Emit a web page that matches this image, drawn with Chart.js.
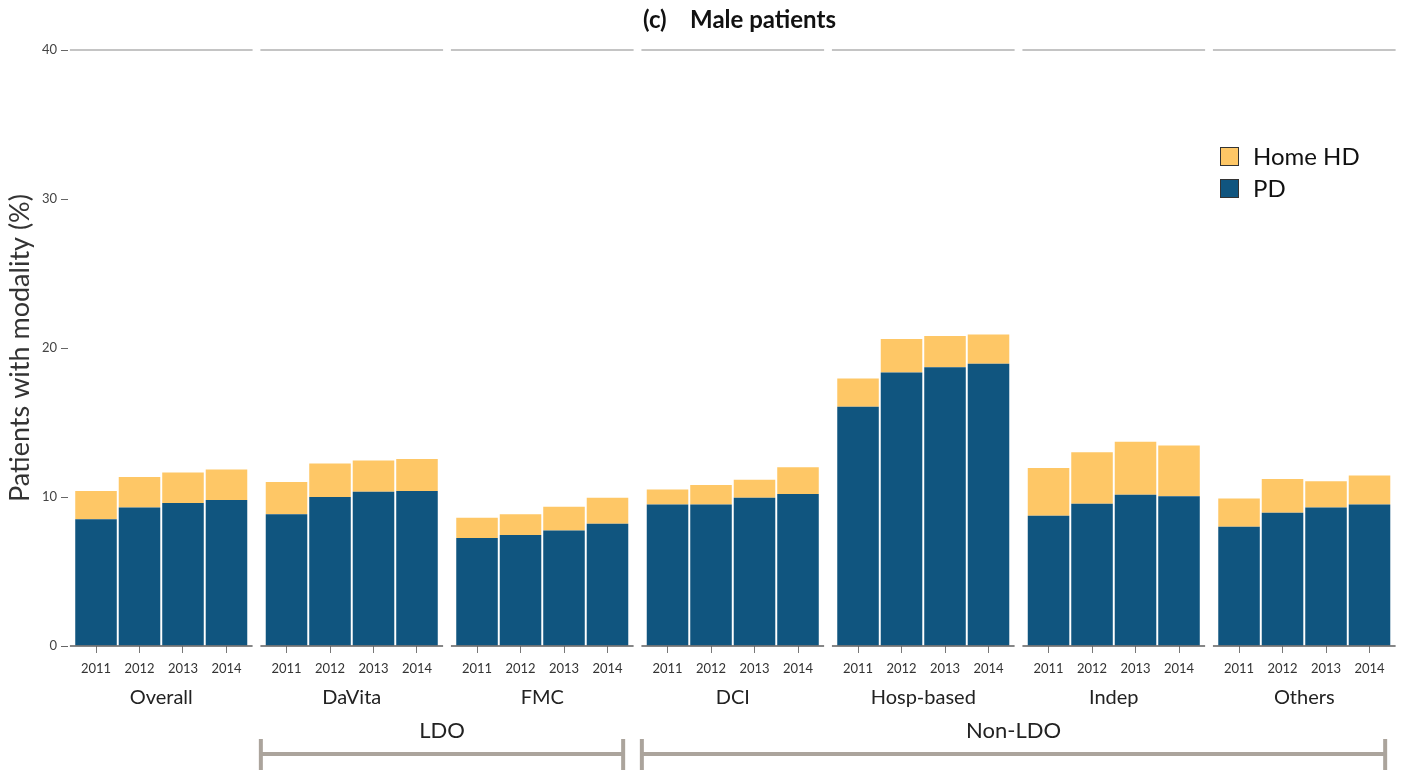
<!DOCTYPE html>
<html>
<head>
<meta charset="utf-8">
<title>Home dialysis use, male patients</title>
<script src="https://cdn.jsdelivr.net/npm/chart.js@4/dist/chart.umd.min.js"></script>
<style>
  html, body { margin: 0; padding: 0; background: #fff; }
  #wrap { width: 1403px; height: 773px; position: relative; }
</style>
</head>
<body>
<div id="wrap"><canvas id="modalityChart"></canvas></div>
<script>
const groups = ["Overall", "DaVita", "FMC", "DCI", "Hosp-based", "Indep", "Others"];
const years = ["2011", "2012", "2013", "2014"];

// % of patients on PD, one row per provider group (2011-2014)
const pdRate = [
  [8.5, 9.3, 9.6, 9.8],
  [8.85, 10.0, 10.35, 10.4],
  [7.25, 7.45, 7.75, 8.2],
  [9.5, 9.5, 9.95, 10.2],
  [16.05, 18.35, 18.7, 18.95],
  [8.75, 9.55, 10.15, 10.05],
  [8.0, 8.95, 9.3, 9.5],
];

// % of patients on home HD, stacked on top of PD
const homeHdRate = [
  [1.9, 2.05, 2.05, 2.05],
  [2.15, 2.25, 2.1, 2.15],
  [1.35, 1.4, 1.6, 1.75],
  [1.0, 1.3, 1.2, 1.8],
  [1.9, 2.25, 2.1, 1.95],
  [3.2, 3.45, 3.55, 3.4],
  [1.9, 2.25, 1.75, 1.95],
];

const yTicks = [0, 10, 20, 30, 40];

// provider groups bracketed under the axis (indices into groups)
const sectors = [
  { label: "LDO", first: 1, last: 2 },
  { label: "Non-LDO", first: 3, last: 6 },
];

const FONT = "Lato, 'Open Sans', sans-serif";
const GROUP_STEP = 4.38; // one group = 4 bars + a small gap

function xPos(g, i) {
  return g * GROUP_STEP + i;
}

function toPoints(rows) {
  const pts = [];
  rows.forEach((row, g) => row.forEach((v, i) => pts.push({ x: xPos(g, i), y: v })));
  return pts;
}

const tickValues = [];
groups.forEach((g, gi) => years.forEach((y, i) => tickValues.push(xPos(gi, i))));

// title, segmented top line / baseline, group names, LDO brackets and legend
const decorPlugin = {
  id: "decor",
  afterDraw(chart) {
    const { ctx, scales, chartArea } = chart;
    const xs = scales.x, ys = scales.y;
    const yTop = ys.getPixelForValue(40);
    const yBase = ys.getPixelForValue(0);

    ctx.save();
    ctx.fillStyle = "#111";
    ctx.font = "bold 24px " + FONT;
    ctx.textAlign = "center";
    ctx.textBaseline = "middle";
    ctx.fillText("(c)    Male patients", (chartArea.left + chartArea.right) / 2 + 8, 20);

    groups.forEach((name, gi) => {
      const x0 = xs.getPixelForValue(xPos(gi, 0) - 0.6);
      const x1 = xs.getPixelForValue(xPos(gi, 3) + 0.6);

      ctx.strokeStyle = "#c4c4c4";
      ctx.lineWidth = 2;
      ctx.beginPath();
      ctx.moveTo(x0, yTop);
      ctx.lineTo(x1, yTop);
      ctx.stroke();

      ctx.strokeStyle = "#5e5e5e";
      ctx.lineWidth = 1.5;
      ctx.beginPath();
      ctx.moveTo(x0, yBase);
      ctx.lineTo(x1, yBase);
      ctx.stroke();

      ctx.fillStyle = "#222";
      ctx.font = "20px " + FONT;
      ctx.textAlign = "center";
      ctx.textBaseline = "middle";
      ctx.fillText(name, xs.getPixelForValue(xPos(gi, 1.5)), yBase + 52);
    });

    sectors.forEach((s) => {
      const x0 = xs.getPixelForValue(xPos(s.first, 0) - 0.59);
      const x1 = xs.getPixelForValue(xPos(s.last, 3) + 0.36);
      const yLine = yBase + 108;
      ctx.strokeStyle = "#aba49c";
      ctx.lineWidth = 4;
      ctx.beginPath();
      ctx.moveTo(x0, yLine);
      ctx.lineTo(x1, yLine);
      ctx.moveTo(x0, yLine - 15);
      ctx.lineTo(x0, yLine + 16);
      ctx.moveTo(x1, yLine - 15);
      ctx.lineTo(x1, yLine + 16);
      ctx.stroke();

      ctx.fillStyle = "#222";
      ctx.font = "22px " + FONT;
      ctx.textAlign = "center";
      ctx.textBaseline = "middle";
      ctx.fillText(s.label, (x0 + x1) / 2, yBase + 85);
    });

    // legend, top series first
    const items = chart.data.datasets.slice().reverse();
    items.forEach((ds, k) => {
      const bx = 1220, by = 147 + k * 32;
      ctx.fillStyle = ds.backgroundColor;
      ctx.fillRect(bx, by, 19, 19);
      ctx.strokeStyle = "#333";
      ctx.lineWidth = 1;
      ctx.strokeRect(bx + 0.5, by + 0.5, 18, 18);
      ctx.fillStyle = "#111";
      ctx.font = "24px " + FONT;
      ctx.textAlign = "left";
      ctx.textBaseline = "middle";
      ctx.fillText(ds.label, bx + 33, by + 10);
    });
    ctx.restore();
  },
};

const ctx = document.getElementById("modalityChart").getContext("2d");

new Chart(ctx, {
  type: "bar",
  data: {
    datasets: [
      {
        label: "PD",
        data: toPoints(pdRate),
        backgroundColor: "#10557f",
        borderWidth: 0,
      },
      {
        label: "Home HD",
        data: toPoints(homeHdRate),
        backgroundColor: "#fec766",
        borderWidth: 0,
      },
    ],
  },
  options: {
    responsive: true,
    maintainAspectRatio: false,
    animation: false,
    barPercentage: 0.955,
    categoryPercentage: 1,
    layout: { padding: { left: 0, right: 8, top: 50, bottom: 0 } },
    scales: {
      x: {
        type: "linear",
        stacked: true,
        offset: false,
        min: -0.644,
        max: 29.866,
        afterBuildTicks: (scale) => {
          scale.ticks = tickValues.map((v) => ({ value: v }));
        },
        afterFit: (scale) => {
          scale.height = 127;
        },
        ticks: {
          autoSkip: false,
          maxRotation: 0,
          padding: 8,
          color: "#333",
          font: { family: FONT, size: 13 },
          callback: (value, index) => years[index % years.length],
        },
        grid: {
          offset: false,
          drawOnChartArea: false,
          tickLength: 7,
          tickColor: "#777",
        },
        border: { display: false },
      },
      y: {
        stacked: true,
        min: 0,
        max: 40,
        afterBuildTicks: (scale) => {
          scale.ticks = yTicks.map((v) => ({ value: v }));
        },
        afterFit: (scale) => {
          scale.width = 68;
        },
        ticks: {
          padding: 4,
          color: "#444",
          font: { family: FONT, size: 13 },
        },
        grid: {
          drawOnChartArea: false,
          tickLength: 7,
          tickColor: "#666",
        },
        border: { display: false },
        title: {
          display: true,
          text: "Patients with modality (%)",
          color: "#333",
          font: { family: FONT, size: 27 },
          padding: { top: 4, bottom: 0 },
        },
      },
    },
    plugins: {
      legend: { display: false },
      tooltip: { enabled: false },
    },
  },
  plugins: [decorPlugin],
});
</script>
</body>
</html>
